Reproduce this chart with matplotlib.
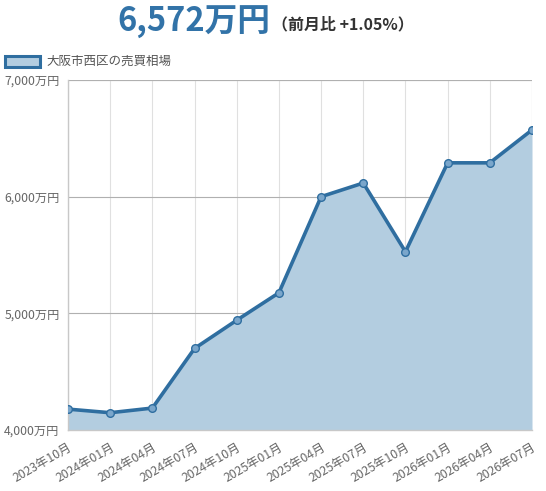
import matplotlib
matplotlib.use("Agg")
import matplotlib.pyplot as plt
from matplotlib.patches import Rectangle

plt.rcParams['font.family'] = ['Noto Sans CJK JP', 'DejaVu Sans']

# data (万円)
months = ["2023年10月", "2024年01月", "2024年04月", "2024年07月", "2024年10月", "2025年01月",
          "2025年04月", "2025年07月", "2025年10月", "2026年01月", "2026年04月", "2026年07月"]
prices = [4179, 4148, 4188, 4699, 4941, 5176, 6000, 6117, 5528, 6290, 6290, 6572]
yticks = [4000, 5000, 6000, 7000]
ytick_labels = ["4,000万円", "5,000万円", "6,000万円", "7,000万円"]
headline = "6,572万円"
change = "（前月比 +1.05%）"
series_name = "大阪市西区の売買相場"

line_color = "#2f6ea0"
fill_color = "#b3cde0"
text_color = "#666666"

fig = plt.figure(figsize=(5.46, 4.91), dpi=100)
ax = fig.add_axes([68 / 546, 61 / 491, 464 / 546, 350 / 491])

x = list(range(len(months)))
ax.fill_between(x, prices, 4000, color=fill_color, linewidth=0, zorder=2)
ax.plot(x, prices, color=line_color, linewidth=2.6, zorder=3,
        marker="o", markersize=5.5, markerfacecolor="#7aa6cb",
        markeredgecolor=line_color, markeredgewidth=1.0)

ax.set_xlim(0, len(months) - 1)
ax.set_ylim(4000, 7000)
ax.set_xticks(x)
ax.set_xticklabels(months, rotation=30, ha="right", rotation_mode="anchor",
                   fontsize=8.8, color=text_color)
ax.set_yticks(yticks)
ax.set_yticklabels(ytick_labels, fontsize=8.8, color=text_color)
ax.tick_params(axis="both", length=0, pad=6)
ax.tick_params(axis="x", pad=8)

ax.grid(axis="x", color="#e0e0e0", linewidth=0.8, zorder=1)
ax.grid(axis="y", color="#b0b0b0", linewidth=0.8, zorder=4)
for side in ["top", "right"]:
    ax.spines[side].set_visible(False)
for side in ["left", "bottom"]:
    ax.spines[side].set_color("#c8c8c8")
    ax.spines[side].set_linewidth(1.0)
ax.axhline(7000, color="#d0d0d0", linewidth=0.8, zorder=1)
ax.axvline(len(months) - 1, color="#e0e0e0", linewidth=0.8, zorder=1)

# headline
fig.text(117 / 546, 1 - 22 / 491, headline, fontsize=23.5, fontweight="bold",
         color="#3273a8", va="center", ha="left")
fig.text(272 / 546, 1 - 24 / 491, change, fontsize=11.5, fontweight="bold",
         color="#333333", va="center", ha="left")

# legend
fig.patches.append(Rectangle((5 / 546, 1 - 67 / 491), 35 / 546, 11 / 491,
                             transform=fig.transFigure, facecolor=fill_color,
                             edgecolor=line_color, linewidth=2.2))
fig.text(46 / 546, 1 - 61 / 491, series_name, fontsize=9, color="#555555",
         va="center", ha="left")

fig.savefig("out.png", dpi=100)
